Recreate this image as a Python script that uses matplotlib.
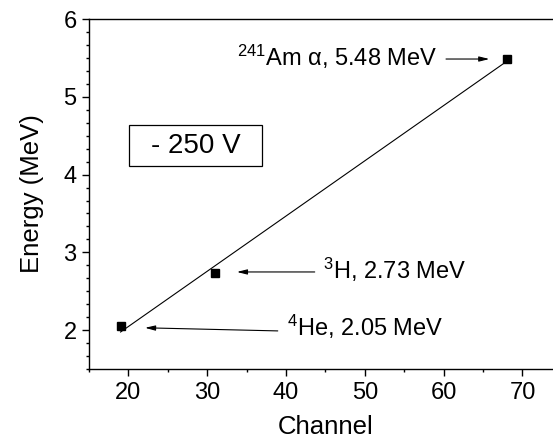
import numpy as np
import matplotlib
matplotlib.use("Agg")
import matplotlib.pyplot as plt
from matplotlib.ticker import AutoMinorLocator, MultipleLocator
from matplotlib.patches import Rectangle

channels = [19, 31, 68]
energies = [2.05, 2.73, 5.48]
labels = [r"$^{4}$He, 2.05 MeV", r"$^{3}$H, 2.73 MeV", r"$^{241}$Am $\alpha$, 5.48 MeV"]
box_label = "- 250 V"
x_label = "Channel"
y_label = "Energy (MeV)"

plt.rcParams["font.family"] = ["Liberation Sans", "DejaVu Sans"]
plt.rcParams["mathtext.fontset"] = "custom"
plt.rcParams["mathtext.rm"] = "Liberation Sans"
plt.rcParams["mathtext.it"] = "Liberation Sans:italic"
plt.rcParams["mathtext.default"] = "regular"

fig = plt.figure(figsize=(5.53, 4.43), dpi=100)
ax = fig.add_axes([0.161, 0.167, 0.855, 0.790])

# linear fit through the points
slope, intercept = np.polyfit(channels, energies, 1)
xf = np.array([min(channels), max(channels)])
ax.plot(xf, slope * xf + intercept, color="black", lw=0.8)
ax.plot(channels, energies, "s", color="black", ms=5.5)

ax.set_xlim(15, 75)
ax.set_ylim(1.5, 6)
ax.xaxis.set_major_locator(MultipleLocator(10))
ax.xaxis.set_minor_locator(AutoMinorLocator(2))
ax.yaxis.set_major_locator(MultipleLocator(1))
ax.yaxis.set_minor_locator(AutoMinorLocator(6))
ax.tick_params(which="major", direction="out", length=5, width=1, labelsize=17, pad=4)
ax.tick_params(which="minor", direction="out", length=2.5, width=1)
for s in ax.spines.values():
    s.set_linewidth(1)

ax.set_xlabel(x_label, fontsize=18.5, labelpad=8)
ax.set_ylabel(y_label, fontsize=18.5, labelpad=14)

ap = dict(arrowstyle="-|>,head_length=0.6,head_width=0.15", color="black", lw=0.8, shrinkA=0, shrinkB=0)
fs = 17
# 4He
ax.annotate("", xy=(22.1, 2.03), xytext=(38.95, 1.99), arrowprops=ap)
ax.text(40.1, 2.04, labels[0], fontsize=fs, va="center", ha="left")
# 3H
ax.annotate("", xy=(33.76, 2.748), xytext=(43.64, 2.748), arrowprops=ap)
ax.text(44.66, 2.774, labels[1], fontsize=fs, va="center", ha="left")
# Am
ax.annotate("", xy=(65.8, 5.486), xytext=(60.3, 5.486), arrowprops=ap)
ax.text(33.76, 5.51, labels[2], fontsize=fs, va="center", ha="left")

ax.add_patch(Rectangle((20.07, 4.11), 36.93 - 20.07, 4.638 - 4.11,
                       fc="white", ec="black", lw=0.9, zorder=3))
ax.text(28.5, 4.374, box_label, fontsize=20, va="center", ha="center", zorder=4)

fig.savefig("out.png", dpi=100)
